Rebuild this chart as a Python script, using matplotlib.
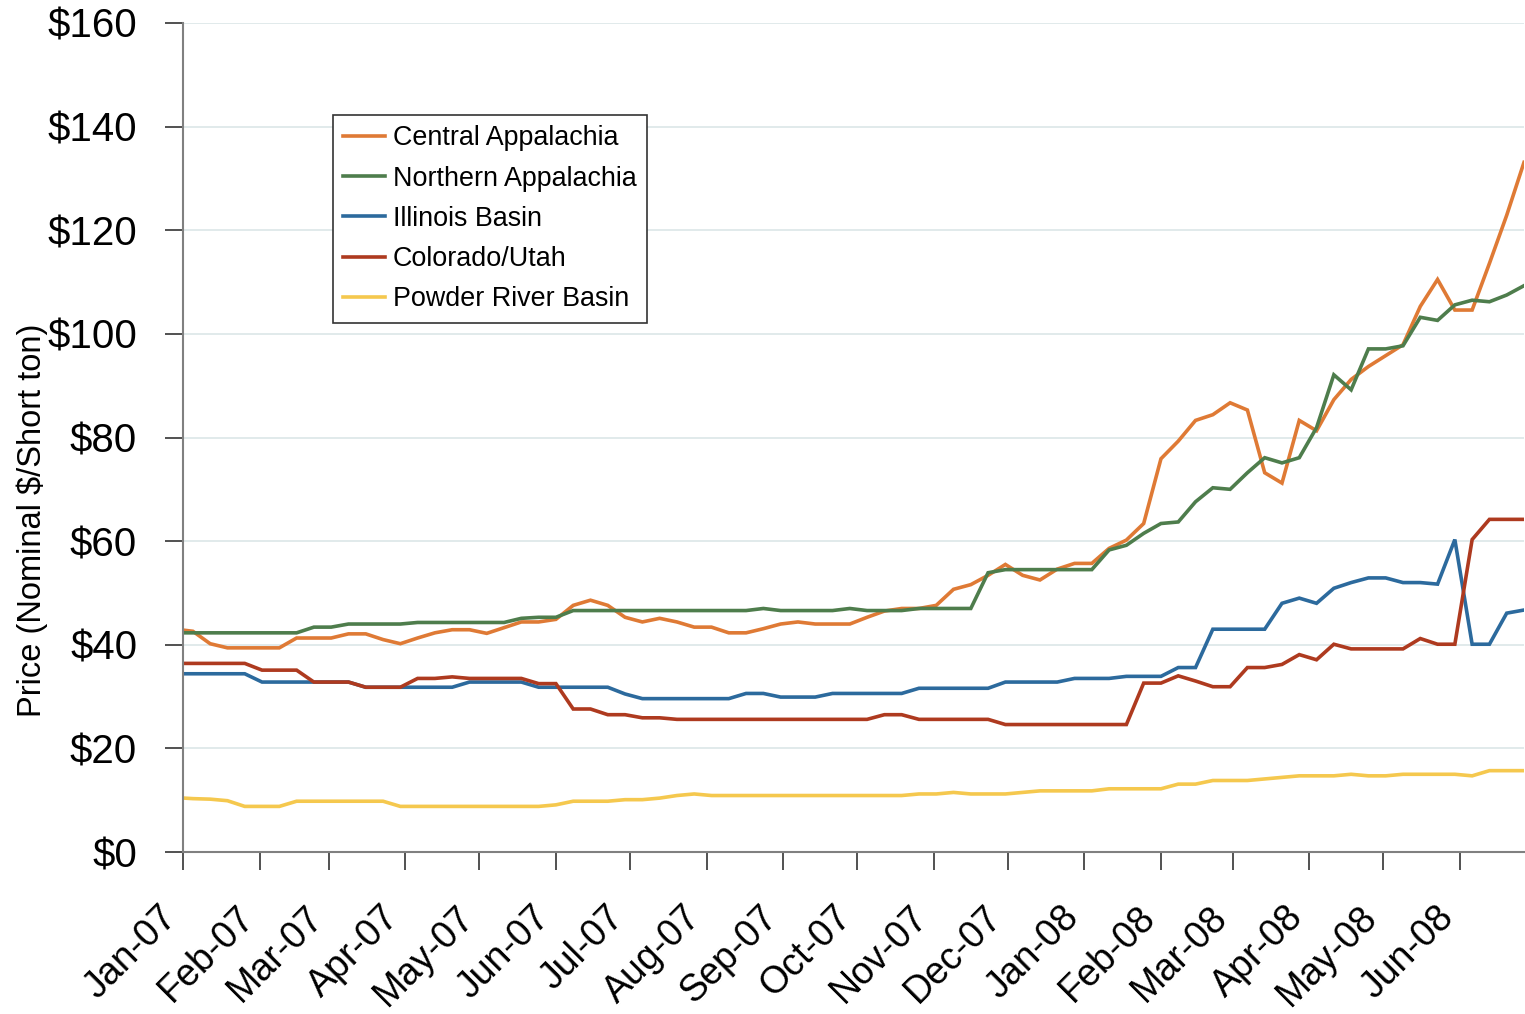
import numpy as np
import pandas as pd
import matplotlib
matplotlib.use("Agg")
import matplotlib.pyplot as plt
import matplotlib.transforms as mtransforms
from matplotlib.ticker import FuncFormatter

plt.rcParams['font.family'] = ['Liberation Sans', 'DejaVu Sans']

# weekly spot prices, Fridays from 29-Dec-2006 to 27-Jun-2008
dates = pd.date_range("2006-12-29", periods=79, freq="7D")
month_ticks = pd.date_range("2007-01-01", "2008-06-01", freq="MS")

central_app = [
    43.0, 42.6, 40.2, 39.4, 39.4, 39.4, 39.4, 41.3, 41.3, 41.3,
    42.1, 42.1, 41.0, 40.2, 41.3, 42.3, 42.9, 42.9, 42.2, 43.3,
    44.4, 44.4, 44.9, 47.6, 48.6, 47.6, 45.3, 44.4, 45.1, 44.4,
    43.4, 43.4, 42.3, 42.3, 43.1, 44.0, 44.4, 44.0, 44.0, 44.0,
    45.3, 46.5, 47.0, 47.0, 47.6, 50.7, 51.6, 53.4, 55.5, 53.4,
    52.5, 54.6, 55.7, 55.7, 58.6, 60.2, 63.4, 75.9, 79.3, 83.3,
    84.4, 86.7, 85.3, 73.2, 71.2, 83.3, 81.3, 87.3, 91.2, 93.7,
    95.8, 97.9, 105.3, 110.5, 104.6, 104.6, 113.6, 122.9, 133.1,
]
northern_app = [
    42.3, 42.3, 42.3, 42.3, 42.3, 42.3, 42.3, 42.3, 43.4, 43.4,
    44.0, 44.0, 44.0, 44.0, 44.3, 44.3, 44.3, 44.3, 44.3, 44.3,
    45.1, 45.3, 45.3, 46.6, 46.6, 46.6, 46.6, 46.6, 46.6, 46.6,
    46.6, 46.6, 46.6, 46.6, 47.0, 46.6, 46.6, 46.6, 46.6, 47.0,
    46.6, 46.6, 46.6, 47.0, 47.0, 47.0, 47.0, 53.9, 54.5, 54.5,
    54.5, 54.5, 54.5, 54.5, 58.3, 59.2, 61.5, 63.4, 63.7, 67.6,
    70.3, 70.0, 73.2, 76.1, 75.1, 76.1, 81.9, 92.1, 89.2, 97.1,
    97.1, 97.7, 103.2, 102.6, 105.6, 106.5, 106.2, 107.5, 109.3,
]
illinois = [
    34.4, 34.4, 34.4, 34.4, 34.4, 32.8, 32.8, 32.8, 32.8, 32.8,
    32.8, 31.8, 31.8, 31.8, 31.8, 31.8, 31.8, 32.8, 32.8, 32.8,
    32.8, 31.8, 31.8, 31.8, 31.8, 31.8, 30.5, 29.6, 29.6, 29.6,
    29.6, 29.6, 29.6, 30.6, 30.6, 29.9, 29.9, 29.9, 30.6, 30.6,
    30.6, 30.6, 30.6, 31.6, 31.6, 31.6, 31.6, 31.6, 32.8, 32.8,
    32.8, 32.8, 33.5, 33.5, 33.5, 33.9, 33.9, 33.9, 35.6, 35.6,
    43.0, 43.0, 43.0, 43.0, 48.0, 49.0, 48.0, 50.9, 52.0, 52.9,
    52.9, 52.0, 52.0, 51.7, 60.3, 40.1, 40.1, 46.1, 46.7,
]
colorado_utah = [
    36.4, 36.4, 36.4, 36.4, 36.4, 35.1, 35.1, 35.1, 32.8, 32.8,
    32.8, 31.8, 31.8, 31.8, 33.5, 33.5, 33.8, 33.5, 33.5, 33.5,
    33.5, 32.5, 32.5, 27.6, 27.6, 26.5, 26.5, 25.9, 25.9, 25.6,
    25.6, 25.6, 25.6, 25.6, 25.6, 25.6, 25.6, 25.6, 25.6, 25.6,
    25.6, 26.5, 26.5, 25.6, 25.6, 25.6, 25.6, 25.6, 24.6, 24.6,
    24.6, 24.6, 24.6, 24.6, 24.6, 24.6, 32.6, 32.6, 34.0, 33.0,
    31.9, 31.9, 35.6, 35.6, 36.2, 38.1, 37.1, 40.1, 39.2, 39.2,
    39.2, 39.2, 41.2, 40.1, 40.1, 60.3, 64.2, 64.2, 64.2,
]
powder_river = [
    10.5, 10.3, 10.2, 9.9, 8.8, 8.8, 8.8, 9.8, 9.8, 9.8,
    9.8, 9.8, 9.8, 8.8, 8.8, 8.8, 8.8, 8.8, 8.8, 8.8,
    8.8, 8.8, 9.1, 9.8, 9.8, 9.8, 10.1, 10.1, 10.4, 10.9,
    11.2, 10.9, 10.9, 10.9, 10.9, 10.9, 10.9, 10.9, 10.9, 10.9,
    10.9, 10.9, 10.9, 11.2, 11.2, 11.5, 11.2, 11.2, 11.2, 11.5,
    11.8, 11.8, 11.8, 11.8, 12.2, 12.2, 12.2, 12.2, 13.1, 13.1,
    13.8, 13.8, 13.8, 14.1, 14.4, 14.7, 14.7, 14.7, 15.0, 14.7,
    14.7, 15.0, 15.0, 15.0, 15.0, 14.7, 15.7, 15.7, 15.7,
]

series = [
    ("Central Appalachia", central_app, "#DF7A35"),
    ("Northern Appalachia", northern_app, "#4E7D4C"),
    ("Illinois Basin", illinois, "#2C6A9D"),
    ("Colorado/Utah", colorado_utah, "#AE3A1F"),
    ("Powder River Basin", powder_river, "#F5C84E"),
]

fig = plt.figure(figsize=(15.25, 10.14), dpi=100)
ax = fig.add_axes([183 / 1525, 1 - 852 / 1014, 1341 / 1525, 829 / 1014])

for name, vals, col in series:
    ax.plot(dates, vals, color=col, lw=2.6, label=name, solid_joinstyle="miter")

ax.set_xlim(pd.Timestamp("2007-01-01"), pd.Timestamp("2008-06-27"))
ax.set_ylim(0, 160)
ax.set_yticks(range(0, 161, 20))
ax.yaxis.set_major_formatter(FuncFormatter(lambda v, p: f"${v:.0f}"))
ax.grid(axis="y", color="#DCE6E8", lw=1.2)
ax.set_axisbelow(True)

ax.set_xticks(month_ticks)
ax.set_xticklabels([])

for s in ("top", "right"):
    ax.spines[s].set_visible(False)
for s in ("left", "bottom"):
    ax.spines[s].set_color("#808080")
    ax.spines[s].set_linewidth(1.5)

ax.tick_params(axis="y", length=13, width=1.2, color="#333333", labelsize=29, pad=20)
ax.tick_params(axis="x", length=13, width=1.2, color="#333333")

# month labels, rotated, hanging below the axis
lab_trans = ax.get_xaxis_transform() + mtransforms.ScaledTranslation(
    -0.24, -0.47, fig.dpi_scale_trans)
for d in month_ticks:
    ax.text(d, 0, d.strftime("%b-%y"), transform=lab_trans, rotation=45,
            rotation_mode="anchor", ha="right", va="top", fontsize=27,
            clip_on=False)

fig.text(32 / 1525, 1 - 520 / 1014, "Price (Nominal $/Short ton)", rotation=90,
         ha="center", va="center", fontsize=23.5)

leg = ax.legend(loc="upper left", bbox_to_anchor=(333 / 1525, 1 - 115 / 1014),
                bbox_transform=fig.transFigure, fontsize=19.4, frameon=True,
                fancybox=False, framealpha=1, edgecolor="#333333",
                handlelength=1.55, handletextpad=0.3, labelspacing=0.53,
                borderpad=0.38, borderaxespad=0)
leg.get_frame().set_linewidth(1.2)

fig.savefig("out.png", dpi=100)
